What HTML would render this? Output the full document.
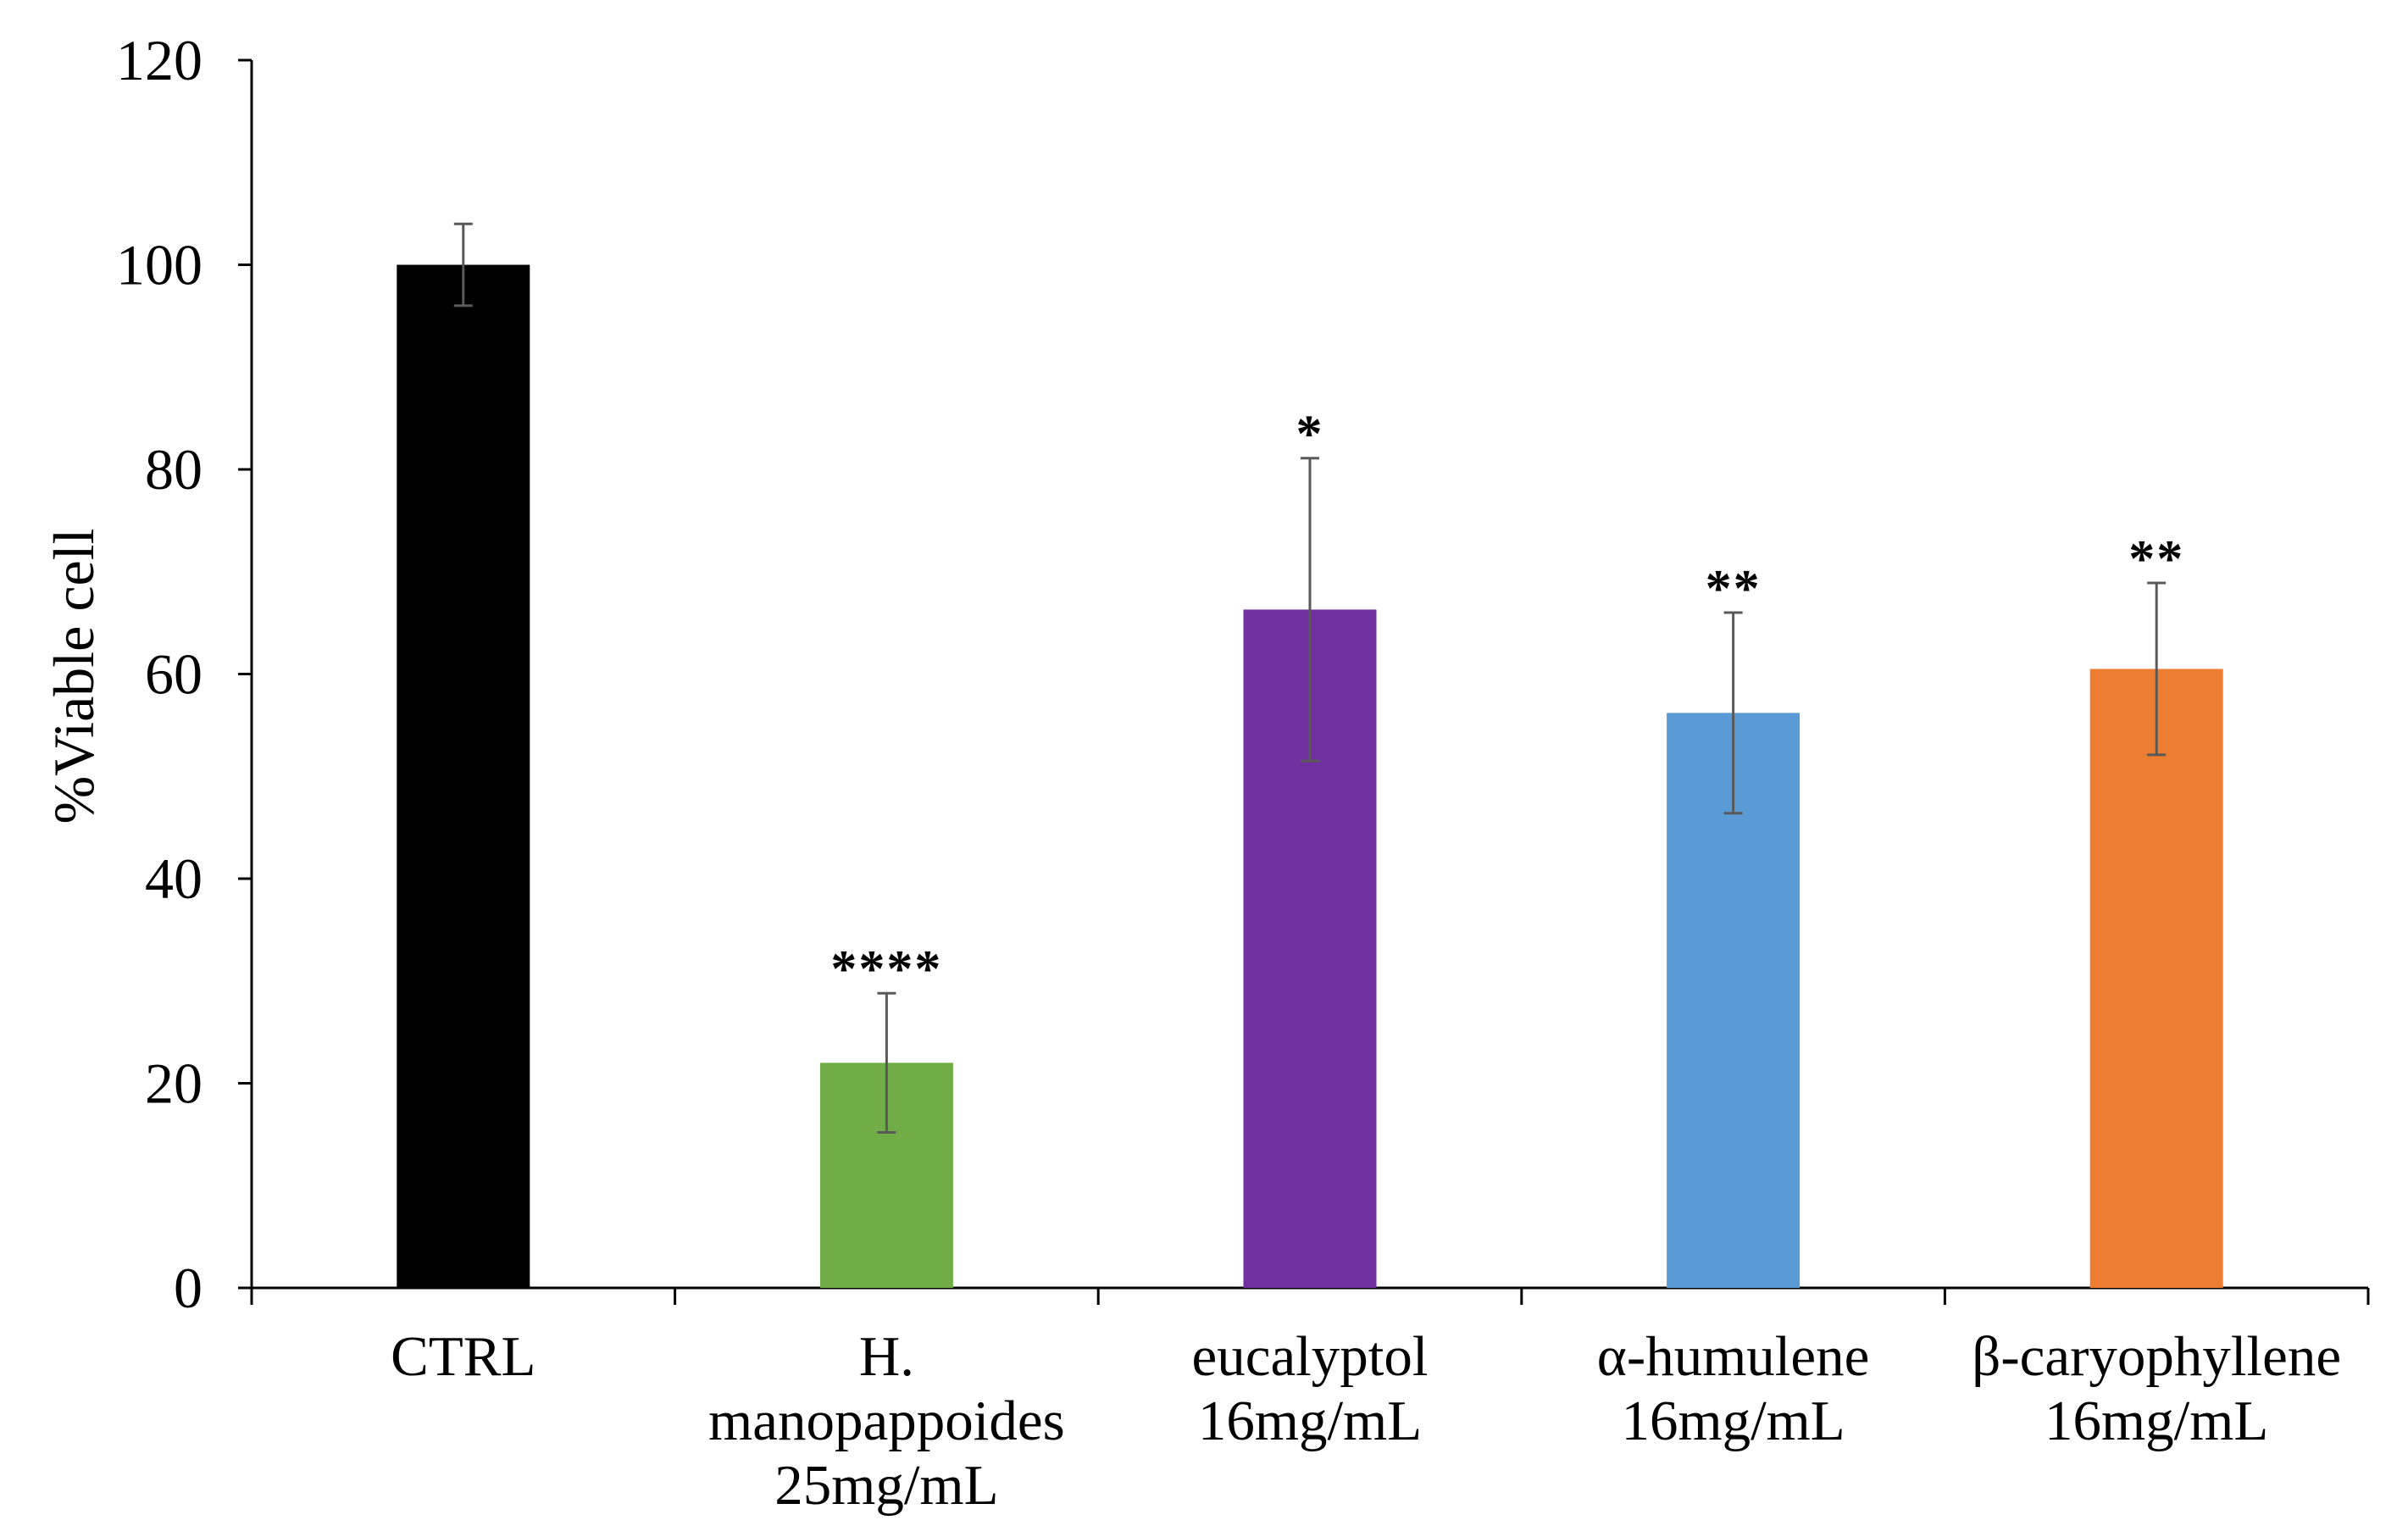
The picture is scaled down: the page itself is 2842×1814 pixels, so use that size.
<!DOCTYPE html>
<html><head><meta charset="utf-8"><style>
html,body{margin:0;padding:0;background:#fff}
svg{display:block}
text{font-family:"Liberation Serif",serif;fill:#000}
</style></head><body>
<svg id="chart" width="2842" height="1814" viewBox="0 0 2842 1814" xmlns="http://www.w3.org/2000/svg">
<g id="axes"></g>
<g id="bars"></g>
<text transform="translate(110,798) rotate(-90)" text-anchor="middle" font-size="68">%Viable cell</text>
</svg>
<script>
const categories = [["CTRL"],["H.","manopappoides","25mg/mL"],["eucalyptol","16mg/mL"],["α-humulene","16mg/mL"],["β-caryophyllene","16mg/mL"]];
const values = [100, 22.0, 66.3, 56.2, 60.5];
const errors = [4.0, 6.8, 14.8, 9.8, 8.4];
const stars = ["", "****", "*", "**", "**"];
const colors = ["#000000","#70ad47","#7030a0","#5b9bd5","#ed7d31"];
const yTicks = [0,20,40,60,80,100,120];

const NS="http://www.w3.org/2000/svg";
const X0=297, X1=2795, Y0=1520, Ytop=71, YMAX=120;
const n=categories.length, step=(X1-X0)/n, barW=157;
function y(v){return Y0-(v/YMAX)*(Y0-Ytop);}
function xc(i){return X0+step*(i+0.5);}
function mk(tag,attrs,parent){const e=document.createElementNS(NS,tag);for(const k in attrs)e.setAttribute(k,attrs[k]);parent.appendChild(e);return e;}
const axes=document.getElementById('axes'), bars=document.getElementById('bars');

let l=mk('line',{x1:X0,y1:Ytop,x2:X0,y2:Y0,stroke:'#000','stroke-width':3},axes);


yTicks.forEach(t=>{
  const tk=mk('line',{x1:281,y1:y(t),x2:X0,y2:y(t),stroke:'#000','stroke-width':3},axes);
  
  
  const tx=mk('text',{x:239,y:y(t)+23,'text-anchor':'end','font-size':68},axes);
  tx.textContent=t;
  
  
});
for(let i=0;i<=n;i++){
  const tk=mk('line',{x1:X0+step*i,y1:Y0,x2:X0+step*i,y2:1540,stroke:'#000','stroke-width':3},axes);
  
  
}
categories.forEach((c,i)=>{
  const b=mk('rect',{x:xc(i)-barW/2,y:y(values[i]),width:barW,height:Y0-y(values[i]),fill:colors[i]},bars);
  
  
  const top=y(values[i]+errors[i]), bot=y(values[i]-errors[i]), cx=xc(i);
  const g=mk('g',{stroke:'#595959','stroke-width':3},bars);
  
  
  mk('line',{x1:cx,y1:top,x2:cx,y2:bot},g);
  mk('line',{x1:cx-11,y1:top,x2:cx+11,y2:top},g);
  mk('line',{x1:cx-11,y1:bot,x2:cx+11,y2:bot},g);
  if(stars[i]){
    const s=mk('text',{x:cx,y:top-8,'text-anchor':'middle','font-size':62,'font-weight':'bold','letter-spacing':'2'},bars);
    s.textContent=stars[i];
    
    
  }
  c.forEach((line,j)=>{
    const t=mk('text',{x:cx,y:1623+76*j,'text-anchor':'middle','font-size':67},axes);
    t.textContent=line;
    
    
  });
});
l=mk('line',{x1:281,y1:Y0,x2:X1,y2:Y0,stroke:'#000','stroke-width':3},axes);


</script>
</body></html>
